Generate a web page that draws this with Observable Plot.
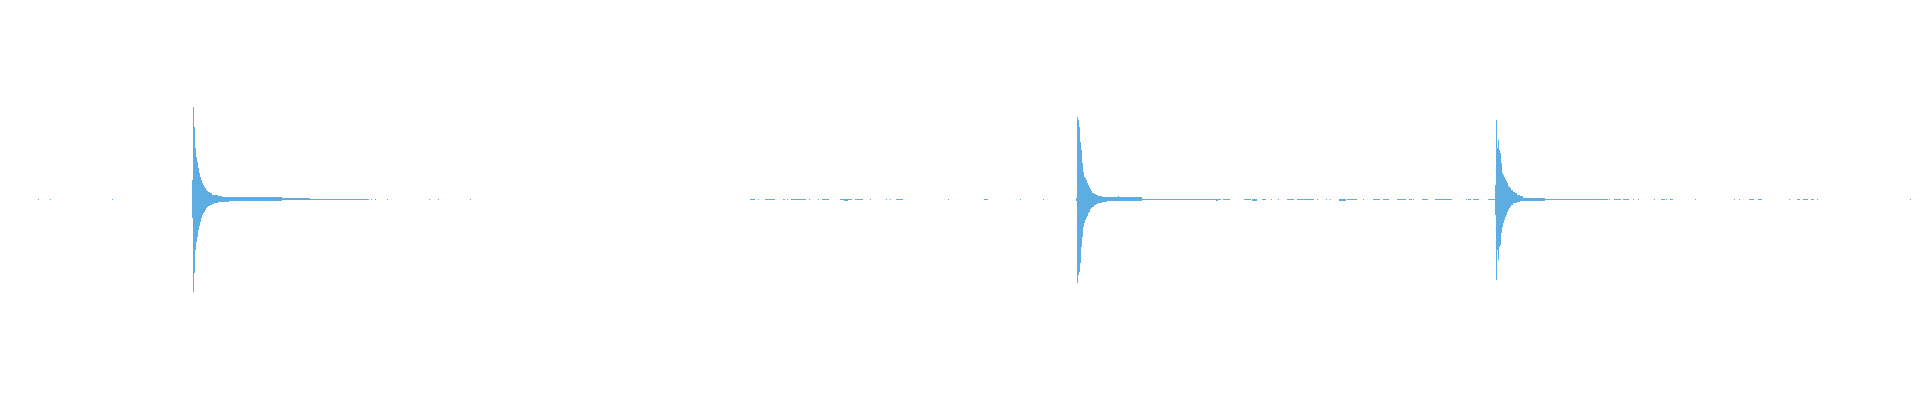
<!DOCTYPE html>
<html>
<head>
<meta charset="utf-8">
<script src="https://cdn.jsdelivr.net/npm/d3@7"></script>
<script src="https://cdn.jsdelivr.net/npm/@observablehq/plot@0.6"></script>
<style>
  html, body { margin: 0; padding: 0; background: #ffffff; }
  #chart { width: 1920px; height: 400px; overflow: hidden; }
</style>
</head>
<body>
<div id="chart"></div>
<script>
// Time axis in sample bins, amplitude normalised to [-1, 1]
const totalBins = 1920;

// Onset bins of the three transients
const onsets = [192, 1076, 1495];

// Per-bin peak envelope (max / min) of each transient, starting at its onset
const decay1Max = [0.098, 0.465, 0.365, 0.257, 0.215, 0.190, 0.156, 0.134, 0.111, 0.098, 0.084, 0.073, 0.064, 0.056, 0.048, 0.044];
const decay1Min = [-0.094, -0.462, -0.370, -0.253, -0.212, -0.186, -0.153, -0.133, -0.111, -0.094, -0.078, -0.066, -0.061, -0.053, -0.044, -0.036];

const decay2Max = [0.006, 0.415, 0.398, 0.365, 0.290, 0.248, 0.181, 0.139, 0.114, 0.106, 0.098, 0.084, 0.073, 0.061, 0.051, 0.044];
const decay2Min = [-0.006, -0.417, -0.378, -0.362, -0.320, -0.236, -0.186, -0.136, -0.120, -0.103, -0.094, -0.083, -0.069, -0.061, -0.049, -0.044];

const decay3Max = [0.073, 0.398, 0.257, 0.298, 0.248, 0.232, 0.181, 0.131, 0.123, 0.111, 0.101, 0.094, 0.081, 0.068, 0.061, 0.056];
const decay3Min = [-0.078, -0.403, -0.253, -0.303, -0.236, -0.228, -0.170, -0.136, -0.120, -0.103, -0.089, -0.078, -0.061, -0.053, -0.044, -0.036];

// Ringing tails: [startBin, endBin, max, min]
const tail1 = [[208, 210, 0.038, -0.033], [210, 212, 0.031, -0.028], [212, 214, 0.023, -0.023], [214, 218, 0.023, -0.016],
               [218, 222, 0.018, -0.013], [222, 229, 0.014, -0.013], [229, 282, 0.011, -0.008], [282, 310, 0.008, -0.003],
               [310, 369, 0.003, -0.003]];
const tail2 = [[1092, 1094, 0.034, -0.036], [1094, 1096, 0.028, -0.028], [1096, 1098, 0.023, -0.023], [1098, 1102, 0.018, -0.016],
               [1102, 1107, 0.014, -0.011], [1107, 1142, 0.011, -0.008], [1118, 1119, 0.018, -0.008],
               [1142, 1166, 0.005, -0.005], [1166, 1214, 0.003, -0.003]];
const tail3 = [[1511, 1513, 0.048, -0.028], [1513, 1515, 0.039, -0.019], [1515, 1517, 0.031, -0.016], [1517, 1520, 0.023, -0.011],
               [1520, 1523, 0.018, -0.008], [1523, 1530, 0.009, -0.006], [1530, 1545, 0.006, -0.006], [1545, 1608, 0.003, -0.003]];

// Low-level noise blips between events: [startBin, endBin]
const noise = [
  [38, 39], [50, 51], [112, 113],
  [371, 372], [375, 376], [387, 388], [429, 430], [438, 439], [470, 471],
  [750, 755], [758, 759], [765, 775], [783, 785], [787, 788], [791, 806], [809, 810], [818, 819], [822, 829],
  [840, 852], [855, 863], [870, 871], [886, 887], [890, 891], [896, 903], [948, 949], [984, 988], [1020, 1021], [1043, 1044],
  [1214, 1221], [1223, 1230], [1244, 1251], [1252, 1257], [1262, 1266], [1271, 1272], [1278, 1279], [1287, 1294],
  [1297, 1314], [1317, 1318], [1326, 1327], [1330, 1331], [1339, 1346], [1347, 1357], [1363, 1364], [1373, 1380],
  [1383, 1389], [1397, 1406], [1409, 1412], [1413, 1414], [1422, 1428], [1435, 1452], [1466, 1467], [1468, 1471],
  [1473, 1479], [1488, 1495],
  [1609, 1610], [1614, 1621], [1623, 1629], [1633, 1634], [1638, 1639], [1654, 1655], [1661, 1665], [1666, 1667],
  [1670, 1673], [1695, 1696], [1734, 1735], [1739, 1740], [1749, 1754], [1758, 1762], [1789, 1790], [1797, 1800],
  [1803, 1808], [1811, 1814], [1817, 1818], [1910, 1911]
];
// Slightly louder blips: [startBin, endBin, max, min]
const blips = [[844, 848, 0.003, -0.010], [1252, 1257, 0.003, -0.008], [1339, 1346, 0.003, -0.008], [1216, 1218, 0.003, -0.008]];
const noiseLevel = 0.003;

// Build the bin table
const bins = [];
const decays = [[decay1Max, decay1Min], [decay2Max, decay2Min], [decay3Max, decay3Min]];
decays.forEach(([mx, mn], k) => {
  mx.forEach((v, i) => bins.push({x1: onsets[k] + i, x2: onsets[k] + i + 1, hi: v, lo: mn[i]}));
});
for (const t of [tail1, tail2, tail3]) {
  for (const [a, b, hi, lo] of t) bins.push({x1: a, x2: b, hi, lo});
}
for (const [a, b] of noise) bins.push({x1: a, x2: b, hi: noiseLevel, lo: -noiseLevel});
for (const [a, b, hi, lo] of blips) bins.push({x1: a, x2: b, hi, lo});

const chart = Plot.plot({
  width: 1920,
  height: 400,
  marginTop: 0,
  marginBottom: 0,
  marginLeft: 0,
  marginRight: 0,
  style: {background: "#ffffff"},
  x: {domain: [0, totalBins], axis: null},
  y: {domain: [-1, 1], range: [399, 0], axis: null},
  marks: [
    Plot.rect(bins, {x1: "x1", x2: "x2", y1: "lo", y2: "hi", fill: "#5DADE2", shapeRendering: "crispEdges"})
  ]
});
document.getElementById("chart").appendChild(chart);
</script>
</body>
</html>
